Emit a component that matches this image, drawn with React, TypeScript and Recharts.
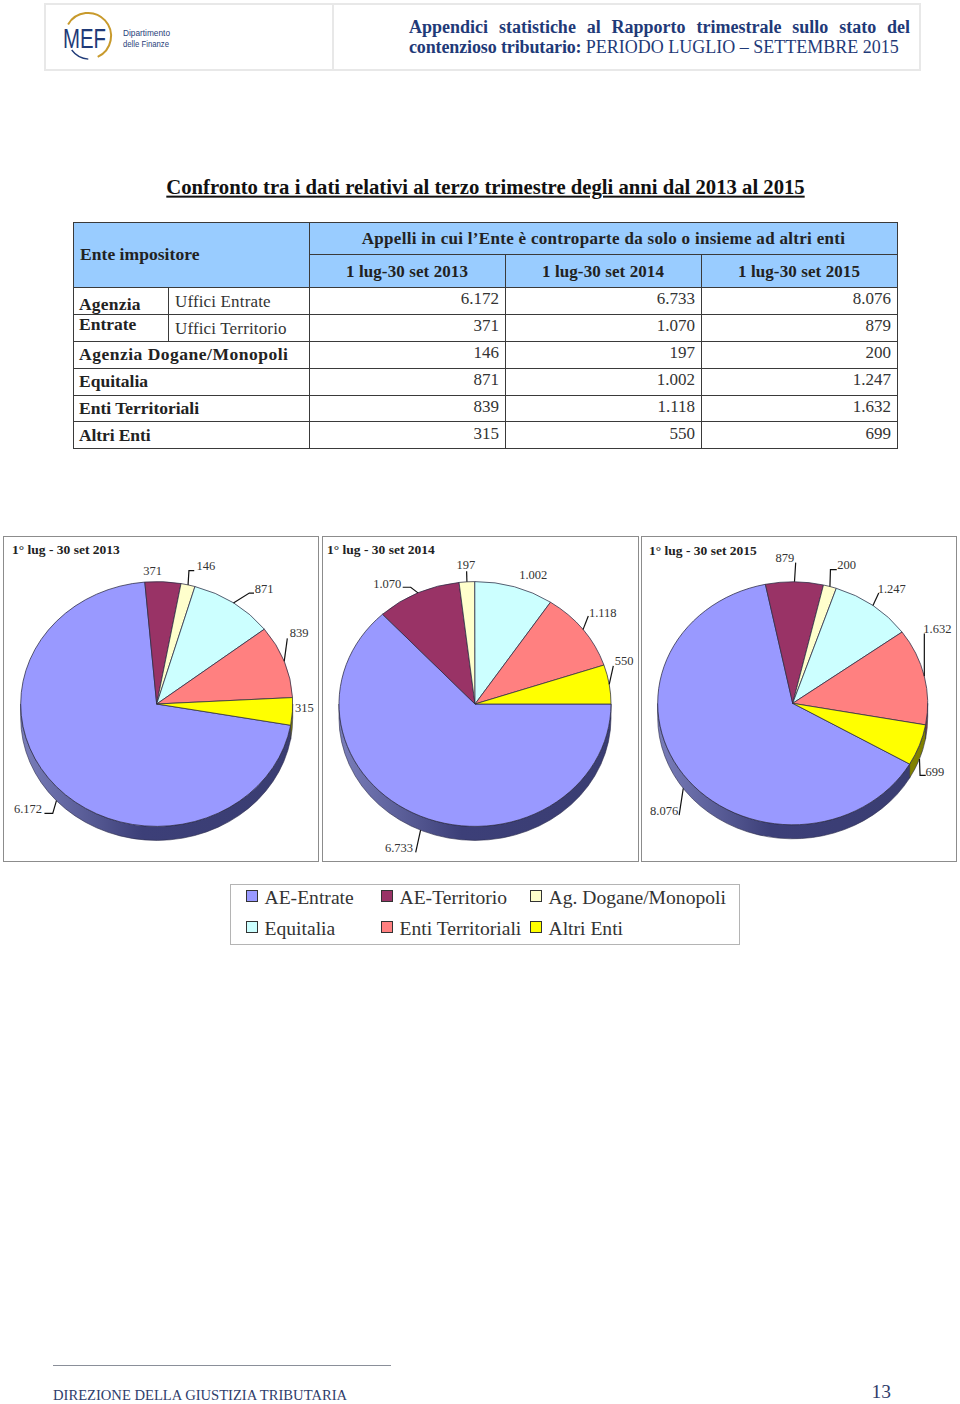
import { Pie, PieChart, Sector } from "recharts";

const categories = ["AE-Entrate", "AE-Territorio", "Ag. Dogane/Monopoli", "Equitalia", "Enti Territoriali", "Altri Enti"];
const values2013 = [6172, 371, 146, 871, 839, 315];
const values2014 = [6733, 1070, 197, 1002, 1118, 550];
const values2015 = [8076, 879, 200, 1247, 1632, 699];
const periods = ["1 lug-30 set 2013", "1 lug-30 set 2014", "1 lug-30 set 2015"];
const colors = ["#9999ff", "#993366", "#ffffcc", "#ccffff", "#ff8080", "#ffff00"];
const sideColors = ["", "#4d1a33", "#808066", "#668080", "#804040", "#808000"];

const SERIF = '"Liberation Serif", serif';
const TILT = 0.9;
const DEPTH = 14;

// label offsets from the slice's rim point: text centre, then leader bends (empty = no leader)
const layout2013 = [
  { text: [-28.4, 8.6], line: [[-3.7, 12.6], [-12, 12.6]] },
  { text: [-10.3, -11], line: [] },
  { text: [17.9, -18.9], line: [[0.9, -14.2], [6.2, -14.2]] },
  { text: [30.6, -13.6], line: [[15.9, -9.9], [20.6, -9.9]] },
  { text: [14.8, -28.1], line: [[3.1, -23.1]] },
  { text: [11.9, -17.4], line: [] },
];
const layout2014 = [
  { text: [-21.6, 18.1], line: [[-4.9, 22.1]] },
  { text: [-30.7, -9.2], line: [[-7.3, -5.6], [-15.3, -5.6]] },
  { text: [-1, -16.8], line: [[-0.3, -10.5]] },
  { text: [18.9, -12.1], line: [] },
  { text: [19.7, -16.3], line: [[5.3, -13.6]] },
  { text: [14.8, -23], line: [[4.1, -18.3]] },
];
const layout2015 = [
  { text: [-19.1, 23], line: [[-4.1, 26.7]] },
  { text: [-9.5, -23.6], line: [[1.2, -19.2]] },
  { text: [16.8, -21.3], line: [[0.5, -16.9], [6.8, -16.9]] },
  { text: [18.8, -16.1], line: [[5.8, -12.5]] },
  { text: [13, -47.4], line: [[0, -42.8]] },
  { text: [15.3, 12.6], line: [[0.6, 16.3], [6.3, 16.3]] },
];

const panels = [
  { year: 2013, values: values2013, layout: layout2013, start: -10, left: 3, width: 316, cx: 153.7, cy: 168, r: 136, titleX: 8, titleY: 14 },
  { year: 2014, values: values2014, layout: layout2014, start: 0, left: 322, width: 317, cx: 153, cy: 168, r: 136, titleX: 4, titleY: 14 },
  { year: 2015, values: values2015, layout: layout2015, start: -30, left: 641, width: 316, cx: 151.7, cy: 167.3, r: 135, titleX: 7, titleY: 15 },
];

const tableRows = [
  { label: "Agenzia Dogane/Monopoli", y: 355, spacing: 0.5 },
  { label: "Equitalia", y: 382, spacing: 0 },
  { label: "Enti Territoriali", y: 409, spacing: 0 },
  { label: "Altri Enti", y: 436, spacing: -0.1 },
];

const fmt = (n: number) => String(n).replace(/(\d)(\d{3})$/, "$1.$2");
const rad = (deg: number) => (deg * Math.PI) / 180;

function T({ x, y, right, center, size = 17, bold, color = "#222", spacing, children, style }: any) {
  const pos: any = { position: "absolute", top: y, whiteSpace: "nowrap", lineHeight: 1, fontFamily: SERIF, fontSize: size, fontWeight: bold ? 700 : 400, color, letterSpacing: spacing };
  if (right !== undefined) {
    pos.right = 960 - right;
    pos.transform = "translateY(-50%)";
  } else if (center !== undefined) {
    pos.left = center;
    pos.transform = "translate(-50%,-50%)";
  } else {
    pos.left = x;
    pos.transform = "translateY(-50%)";
  }
  return <div style={{ ...pos, ...style }}>{children}</div>;
}

function Line({ x, y, w, h, color = "#3a3a3a" }: any) {
  return <div style={{ position: "absolute", left: x, top: y, width: w, height: h, background: color }} />;
}

function ellipsePoint(cx: number, cy: number, r: number, deg: number) {
  return [cx + r * Math.cos(rad(deg)), cy - TILT * r * Math.sin(rad(deg))];
}

// tilted slice: the library's Sector squashed vertically, plus the visible rim below it
function TiltedSlice(props: any) {
  const { cx, cy, outerRadius: r, startAngle, endAngle, fill, year, index } = props;
  const hi = Math.max(startAngle, endAngle);
  const lo = Math.min(startAngle, endAngle);
  const ribbons: string[] = [];
  [0, -360].forEach((turn) => {
    const a = Math.min(hi, turn);
    const b = Math.max(lo, turn - 180);
    if (b < a) {
      const [x1, y1] = ellipsePoint(cx, cy, r, a);
      const [x2, y2] = ellipsePoint(cx, cy, r, b);
      const ry = TILT * r;
      ribbons.push(
        `M${x1},${y1} A${r},${ry} 0 0 1 ${x2},${y2} L${x2},${y2 + DEPTH} A${r},${ry} 0 0 0 ${x1},${y1 + DEPTH} Z`,
      );
    }
  });
  const side = index === 0 ? `url(#rim-${year})` : sideColors[index];
  return (
    <g>
      {ribbons.map((d) => (
        <path key={d} d={d} fill={side} stroke="#2c2c4c" strokeWidth={0.6} />
      ))}
      <g transform={`translate(0,${cy}) scale(1,${TILT}) translate(0,${-cy})`}>
        <Sector cx={cx} cy={cy} innerRadius={0} outerRadius={r} startAngle={startAngle} endAngle={endAngle} fill={fill} stroke="#2c2c44" strokeWidth={0.8} />
      </g>
    </g>
  );
}

function sliceLabel(layout: any[]) {
  return (props: any) => {
    const { cx, cy, outerRadius, midAngle, index, value } = props;
    const [px, py0] = ellipsePoint(cx, cy, outerRadius, midAngle);
    const py = py0 + (Math.sin(rad(midAngle)) < 0 ? DEPTH : 0);
    const item = layout[index];
    const pts = [[px, py], ...item.line.map((p: number[]) => [px + p[0], py + p[1]])];
    return (
      <g>
        {item.line.length > 0 && <polyline points={pts.map((p) => p.join(",")).join(" ")} fill="none" stroke="#111" strokeWidth={1.2} />}
        <text x={px + item.text[0]} y={py + item.text[1]} textAnchor="middle" dominantBaseline="central" fontFamily={SERIF} fontSize={12.5} fill="#333">
          {fmt(value)}
        </text>
      </g>
    );
  };
}

function PiePanel({ year, values, layout, start, left, width, cx, cy, r, titleX, titleY }: any) {
  const data = categories.map((name, i) => ({ name, value: values[i], fill: colors[i] }));
  const shape = (p: any) => <TiltedSlice {...p} year={year} index={p.index} />;
  return (
    <div style={{ position: "absolute", left, top: 536, width, height: 326, boxSizing: "border-box", border: "1px solid #8c8c8c", background: "#fff" }}>
      <div style={{ position: "absolute", left: -1, top: -1 }}>
        <PieChart width={width} height={326} margin={{ top: 0, right: 0, bottom: 0, left: 0 }}>
          <defs>
            <linearGradient id={`rim-${year}`} x1="0" y1="0" x2="1" y2="0">
              <stop offset="0%" stopColor="#7a7eba" />
              <stop offset="45%" stopColor="#3c3f78" />
              <stop offset="100%" stopColor="#3a3d72" />
            </linearGradient>
          </defs>
          <Pie
            data={data}
            dataKey="value"
            nameKey="name"
            cx={cx}
            cy={cy}
            outerRadius={r}
            startAngle={start}
            endAngle={start - 360}
            isAnimationActive={false}
            shape={shape}
            inactiveShape={shape}
            label={sliceLabel(layout)}
            labelLine={false}
          />
        </PieChart>
      </div>
      <div style={{ position: "absolute", left: titleX, top: titleY - 1, transform: "translateY(-50%)", whiteSpace: "nowrap", fontFamily: SERIF, fontWeight: 700, fontSize: 13.5, color: "#222", lineHeight: 1 }}>
        {`1° lug - 30 set ${year}`}
      </div>
    </div>
  );
}

function Logo() {
  return (
    <svg width={140} height={60} style={{ position: "absolute", left: 55, top: 6 }}>
      <path d="M 13.1 18.5 A 23 23 0 1 1 42.7 50.8" fill="none" stroke="#c89a2c" strokeWidth={2} />
      <path d="M 16.7 44 A 23 23 0 0 0 33.3 53.2" fill="none" stroke="#1f3a78" strokeWidth={1.3} />
      <text x={8} y={42} fontFamily='"Liberation Sans", sans-serif' fontSize={28} fill="#1f3a78" textLength={43} lengthAdjust="spacingAndGlyphs">MEF</text>
      <text x={68} y={30} fontFamily='"Liberation Sans", sans-serif' fontSize={9.5} fill="#2a3f7a" textLength={47} lengthAdjust="spacingAndGlyphs">Dipartimento</text>
      <text x={68} y={41} fontFamily='"Liberation Sans", sans-serif' fontSize={9.5} fill="#2a3f7a" textLength={46} lengthAdjust="spacingAndGlyphs">delle Finanze</text>
    </svg>
  );
}

function Legend() {
  const xs = [246, 381, 530];
  const ys = [897, 928];
  return (
    <div>
      <div style={{ position: "absolute", left: 230, top: 884, width: 510, height: 61, boxSizing: "border-box", border: "1px solid #b4b4b4" }} />
      {categories.map((name, i) => {
        const x = xs[i % 3];
        const y = ys[Math.floor(i / 3)];
        return (
          <div key={name}>
            <div style={{ position: "absolute", left: x, top: y - 7, width: 12, height: 12, boxSizing: "border-box", border: "1.5px solid #333", background: colors[i] }} />
            <T x={x + 18.5} y={y + 1} size={19.6} color="#333">{name}</T>
          </div>
        );
      })}
    </div>
  );
}

export default function App() {
  const cols = [values2013, values2014, values2015];
  const rights = [499, 695, 891];
  const rowYs = [298, 325, 352, 379, 406, 433];
  const hLines = [287, 314, 341, 368, 395, 421, 448];
  return (
    <div style={{ position: "absolute", left: 0, top: 0, width: 960, height: 1404, background: "#fff", overflow: "hidden" }}>
      {/* intestazione */}
      <div style={{ position: "absolute", left: 44, top: 3, width: 877, height: 68, boxSizing: "border-box", border: "2px solid #e8e8e8" }} />
      <Line x={332} y={3} w={2} h={68} color="#e8e8e8" />
      <Logo />
      <div style={{ position: "absolute", left: 409, top: 17, width: 501, fontFamily: SERIF, fontWeight: 700, fontSize: 18, lineHeight: "20px", color: "#1f3a78", textAlign: "justify", textAlignLast: "justify" }}>
        Appendici statistiche al Rapporto trimestrale sullo stato del
      </div>
      <T x={409} y={47} size={18} bold color="#1f3a78" spacing={-0.13}>
        contenzioso tributario: <span style={{ fontWeight: 400, letterSpacing: 0 }}>PERIODO LUGLIO – SETTEMBRE 2015</span>
      </T>

      <T center={485.5} y={187} size={20.7} bold color="#111" style={{ textDecoration: "underline" }}>
        Confronto tra i dati relativi al terzo trimestre degli anni dal 2013 al 2015
      </T>

      {/* tabella */}
      <Line x={73} y={222} w={824} h={65} color="#99ccff" />
      <Line x={73} y={222} w={825} h={1} />
      <Line x={309} y={254} w={588} h={1} />
      {hLines.map((y) => (
        <Line key={y} x={73} y={y} w={825} h={1} />
      ))}
      <Line x={73} y={222} w={1} h={227} />
      <Line x={897} y={222} w={1} h={227} />
      <Line x={309} y={222} w={1} h={227} />
      <Line x={505} y={254} w={1} h={195} />
      <Line x={701} y={254} w={1} h={195} />
      <Line x={168} y={287} w={1} h={54} />
      <T x={80} y={255} size={17.5} bold spacing={0.05}>Ente impositore</T>
      <T center={603.5} y={238} bold spacing={0.3}>Appelli in cui l’Ente è controparte da solo o insieme ad altri enti</T>
      {periods.map((p, i) => (
        <T key={p} center={407 + 196 * i} y={271} bold spacing={0.1}>{p}</T>
      ))}
      <T x={79} y={305} size={17.5} bold spacing={0.2}>Agenzia</T>
      <T x={79} y={325} size={17.5} bold>Entrate</T>
      <T x={175} y={301} color="#333" spacing={0.15}>Uffici Entrate</T>
      <T x={175} y={328} color="#333" spacing={0.15}>Uffici Territorio</T>
      {tableRows.map((r) => (
        <T key={r.label} x={79} y={r.y} size={17.5} bold spacing={r.spacing}>{r.label}</T>
      ))}
      {cols.map((col, c) =>
        col.map((v, r) => (
          <T key={`${c}-${r}`} right={rights[c]} y={rowYs[r]} color="#333">{fmt(v)}</T>
        )),
      )}

      {panels.map((p) => (
        <PiePanel key={p.year} {...p} />
      ))}
      <Legend />

      {/* piè di pagina */}
      <Line x={53} y={1365} w={338} h={1} color="#8a8f99" />
      <T x={53} y={1395} size={14.6} color="#2f3d6b">DIREZIONE DELLA GIUSTIZIA TRIBUTARIA</T>
      <T right={891} y={1392} size={19.5} color="#2f3d6b">13</T>
    </div>
  );
}
